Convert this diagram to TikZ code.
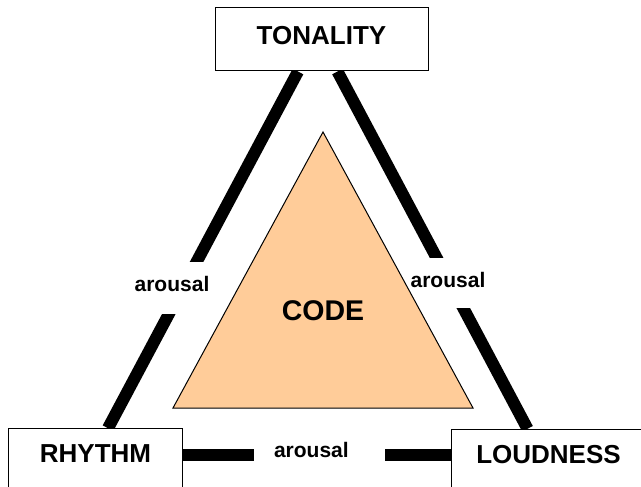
\documentclass[tikz,border=0pt]{standalone}
\usepackage{fontspec}
\setmainfont{Liberation Sans}
\usetikzlibrary{calc}
\definecolor{codefill}{HTML}{FFCC99}
\pgfdeclarelayer{bg}
\pgfsetlayers{bg,main}
\begin{document}
\begin{tikzpicture}[x=1pt,y=-1pt,
  box/.style={draw, line width=1pt, fill=white, inner sep=0pt,
    font=\fontsize{26}{30}\selectfont\bfseries},
  link/.style={line width=12pt, line cap=butt},
  lab/.style={fill=white, inner xsep=1pt, inner ysep=0pt,
    font=\fontsize{21}{25}\selectfont\bfseries},
  tri/.style={draw, line width=1pt, fill=codefill, line join=miter}
]
\clip (0,0) rectangle (641,487);
% boxes
\node[box, minimum width=213pt, minimum height=63pt, text depth=9pt] (ton) at (321.5,39.5) {TONALITY};
\node[box, minimum width=174.4pt, minimum height=71.3pt, text depth=20.8pt] (rhy) at (95.5,464.35) {RHYTHM};
\node[box, minimum width=195pt, minimum height=70.7pt, text depth=20.8pt] (lou) at (548.5,464.65) {LOUDNESS};
% connectors
\begin{pgfonlayer}{bg}
\draw[link] ($(ton.south)+(-23.5,0)$) -- ($(rhy.north)+(12.5,0)$);
\draw[link] ($(ton.south)+(16,0)$) -- ($(lou.north)+(-21,0)$);
\draw[link] ($(rhy.east)+(0,-9.35)$) -- ($(lou.west)+(0,-9.65)$);
\end{pgfonlayer}
% labels
\node[lab, minimum height=52pt, text depth=9pt] (l1) at (172,288) {arousal};
\node[lab, minimum height=50pt, text depth=7pt] (l2) at (448,283) {arousal};
\node[lab, minimum height=26pt, text depth=11pt, inner xsep=0pt, text width=131pt, align=left] (l3) at (319.5,455) {\hspace*{20pt}arousal};
% central triangle
\draw[tri] (323,132) -- (173,408) -- (473,408) -- cycle;
\node[inner sep=0pt, font=\fontsize{28.5}{32}\selectfont\bfseries] (code) at (323,310.5) {CODE};
\end{tikzpicture}
\end{document}
